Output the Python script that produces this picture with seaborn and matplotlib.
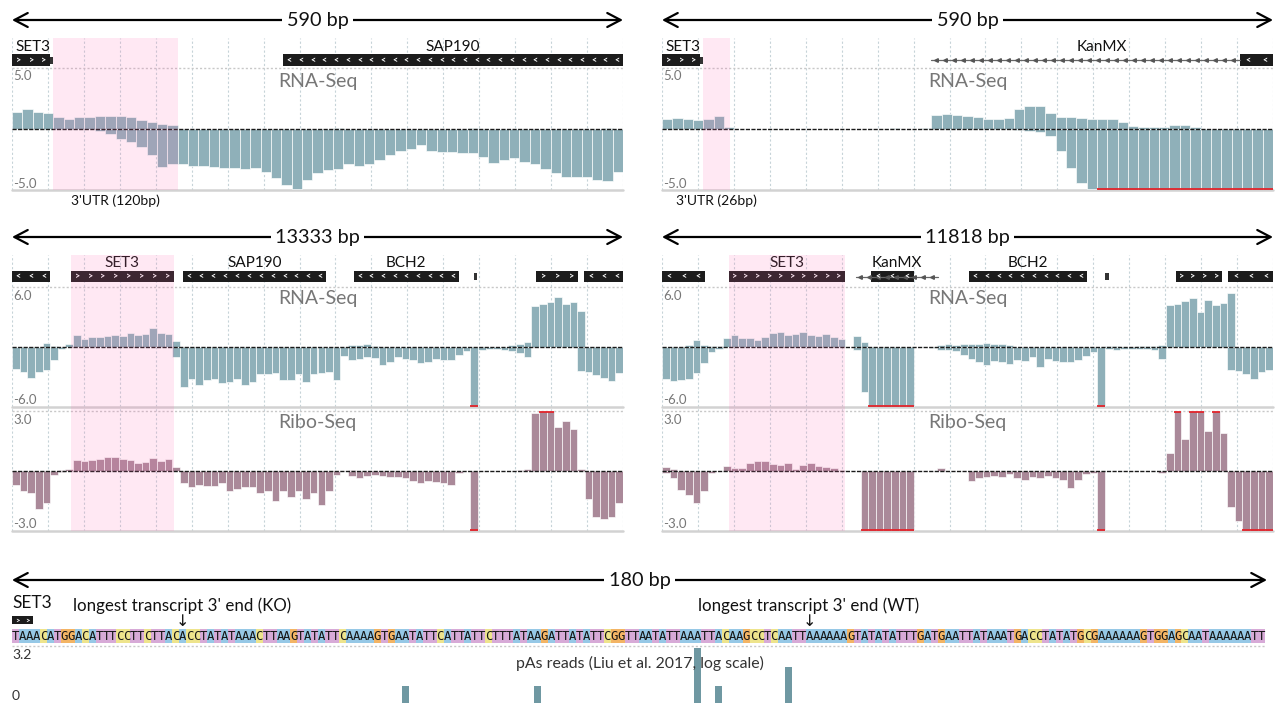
import numpy as np
import pandas as pd
import matplotlib
matplotlib.use("Agg")
import matplotlib.pyplot as plt
from matplotlib.patches import Rectangle
from matplotlib.colors import ListedColormap
import seaborn as sns

# ---------------------------------------------------------------- data
# top panels: 590 bp window, 59 bins
top_len = 590
tl_rna_plus = [1.4, 1.6, 1.4, 1.35, 0.95, 0.85, 0.95, 1.0, 1.05, 1.05,
               1.1, 0.95, 0.75, 0.6, 0.45, 0.35] + [0.0] * 15 + [0.1] + [0.0] * 12 + [0.1] + [0.0] * 12 + [0.1, 0.0]
tl_rna_minus = [0.0] * 8 + [
    -0.15, -0.45, -0.8, -1.1, -1.5, -2.1, -3.1, -2.9, -2.9, -3.0,
    -3.05, -3.1, -3.2, -3.2, -3.3, -3.2, -3.5, -4.0, -4.6, -4.9,
    -4.2, -3.6, -3.4, -3.3, -2.9, -3.0, -2.9, -2.5, -2.1, -1.8,
    -1.6, -1.3, -1.8, -1.9, -1.9, -2.0, -2.0, -2.3, -2.8, -2.5,
    -2.4, -2.7, -2.9, -3.3, -3.6, -3.9, -3.9, -3.9, -4.2, -4.3,
    -3.5]
tr_rna_plus = [0.8, 0.9, 0.85, 0.75, 0.85, 1.05, 0.2] + [0.0] * 15 + [0.1, 0.0, 0.0, 0.1,
    1.15, 1.2, 1.15, 1.05, 0.95, 0.85, 0.85, 0.9, 1.6, 1.85,
    1.85, 1.3, 1.0, 0.95, 0.9, 0.85, 0.8, 0.8, 0.6, 0.25,
    0.15, 0.15, 0.2, 0.35, 0.35, 0.2] + [0.0] * 7
tr_rna_minus = [0.0] * 34 + [-0.1, -0.2, -0.25, -0.6, -1.8, -3.2, -4.4, -4.95] + [-6.0] * 17

# middle panels: 80 bins each
ml_len = 13333
mr_len = 11818
ml_rna_plus = [0.0] * 4 + [0.4, 0.1, 0.0, 0.3,
    1.2, 0.8, 1.0, 1.0, 1.1, 1.2, 1.1, 1.4, 1.2, 1.3, 1.9, 1.4, 1.3, 0.6] + [0.0] * 22 + [
    0.2, 0.25, 0.3, 0.15] + [0.0] * 17 + [0.2, 0.3, 0.5,
    4.1, 4.3, 4.5, 5.0, 4.3, 4.5, 3.6] + [0.0] * 5
ml_rna_minus = [-2.2, -2.5, -3.1, -2.5, -2.3, -1.3, -0.2] + [0.0] * 14 + [
    -1.0, -4.0, -3.2, -3.8, -3.3, -3.2, -3.6, -3.5, -3.2, -3.8,
    -3.5, -2.7, -2.7, -2.6, -3.3, -3.3, -2.7, -3.5, -2.7, -2.6,
    -2.5, -3.3, -0.9, -1.3, -1.2, -1.0, -1.1, -1.8, -1.5, -1.0,
    -1.2, -1.3, -1.6, -1.5, -1.2, -1.3, -1.3, -0.8, -0.4, -7.0,
    -0.3, -0.2, -0.2, -0.3, -0.4, -0.6, -1.0] + [0.0] * 6 + [
    -2.4, -2.5, -2.8, -3.1, -3.4, -2.6]
ml_ribo_plus = [0.0] * 6 + [0.05, 0.1, 0.55, 0.5, 0.55, 0.6, 0.72, 0.7, 0.6, 0.55,
    0.4, 0.45, 0.65, 0.5, 0.6, 0.2] + [0.0] * 22 + [0.03] + [0.0] * 21 + [
    0.05, 0.1, 2.9, 3.5, 3.5, 2.2, 2.5, 2.1, 0.1] + [0.0] * 5
ml_ribo_minus = [-0.7, -1.0, -1.1, -1.9, -1.6, -0.2, -0.05] + [0.0] * 15 + [
    -0.6, -0.8, -0.7, -0.75, -0.75, -0.6, -1.0, -0.9, -0.8, -0.8,
    -1.1, -1.0, -1.5, -1.0, -1.3, -1.0, -1.4, -1.1, -1.7, -1.0,
    -0.2, 0.0, -0.25, -0.35, -0.25, -0.2, -0.25, -0.3, -0.3, -0.35,
    -0.5, -0.6, -0.5, -0.55, -0.6, -0.7, -0.1, 0.0, -3.5] + [0.0] * 14 + [
    -1.4, -2.3, -2.4, -2.3, -1.6]

mr_rna_plus = [0.0, 0.0, 0.0, 0.2, 0.7, 0.2, 0.1, 0.1,
    0.9, 1.2, 0.9, 0.9, 0.7, 1.0, 1.4, 1.5, 1.2, 1.3,
    1.5, 1.2, 1.1, 1.3, 1.0, 0.8, 0.0, 1.15, 0.5] + [0.0] * 9 + [
    0.25, 0.3, 0.2, 0.3, 0.3, 0.35, 0.45, 0.3, 0.3, 0.25] + [0.0] * 10 + [
    0.05, 0.0, 0.1, 0.1, 0.05, 0.0, 0.1, 0.15, 0.15, 0.2,
    4.2, 4.3, 4.6, 4.9, 3.5, 4.7, 4.2, 4.4, 5.4] + [0.0] * 5
mr_rna_minus = [-3.2, -3.4, -3.3, -3.2, -2.6, -1.6, -0.5, -0.2] + [0.0] * 17 + [
    -0.3, -4.5] + [-7.0] * 6 + [
    0.0, 0.0, -0.1, -0.3, -0.3, -0.4, -0.8, -1.2, -1.5, -1.8,
    -1.4, -1.5, -1.7, -1.3, -1.4, -1.0, -2.0, -1.2, -1.4, -1.5,
    -1.5, -1.3, -0.9, -0.5, -7.0, -0.2, -0.3, -0.2, -0.2, -0.2,
    -0.2, -0.3, -1.2] + [0.0] * 8 + [-2.3, -2.4, -2.7, -3.2, -2.5, -2.3]
mr_ribo_plus = [0.2, 0.1] + [0.0] * 6 + [
    0.25, 0.15, 0.15, 0.4, 0.5, 0.5, 0.35, 0.3, 0.4, 0.1,
    0.3, 0.4, 0.25, 0.2, 0.15, 0.05] + [0.0] * 12 + [0.15] + [0.0] * 29 + [
    0.9, 3.5, 1.6, 3.5, 3.5, 2.0, 3.5, 1.9] + [0.0] * 6
mr_ribo_minus = [-0.1, -0.35, -0.95, -1.2, -1.6, -1.0, -0.1] + [0.0] * 19 + [-3.5] * 7 + [0.0] * 7 + [
    -0.5, -0.35, -0.3, -0.25, -0.3, -0.15, -0.35, -0.45, -0.3, -0.35,
    -0.25, -0.35, -0.45, -0.85, -0.45, -0.15, -0.1, -3.5] + [0.0] * 7 + [-0.1] + [0.0] * 8 + [
    -1.8, -2.5, -3.5, -3.5, -3.5, -3.5]

# gene features: (start bp, end bp, direction, kind)
tl_features = [(0, 37, '>', 'box'), (37, 40, '', 'stub'), (262, 590, '<', 'box')]
tl_labels = [('SET3', 20), ('SAP190', 426)]
tr_features = [(0, 37, '>', 'box'), (37, 40, '', 'stub'), (260, 558, '<', 'line'), (558, 590, '<', 'box')]
tr_labels = [('SET3', 20), ('KanMX', 425)]
ml_features = [(0, 838, '<', 'box'), (1283, 3535, '>', 'box'), (3740, 6856, '<', 'box'),
               (7456, 9745, '<', 'box'), (10081, 10150, '', 'dot'),
               (11443, 12360, '>', 'box'), (12483, 13333, '<', 'box')]
ml_labels = [('SET3', 2409), ('SAP190', 5298), ('BCH2', 8600)]
mr_features = [(0, 839, '<', 'box'), (1290, 3530, '>', 'box'), (3744, 5329, '<', 'line'),
               (4046, 4867, '<', 'box'), (5938, 8218, '<', 'box'), (8568, 8640, '', 'dot'),
               (9935, 10831, '>', 'box'), (10947, 11818, '<', 'box')]
mr_labels = [('SET3', 2410), ('KanMX', 4536), ('BCH2', 7078)]

tl_pink = (40, 160)
tr_pink = (40, 66)
ml_pink = (1283, 3535)
mr_pink = (1290, 3530)

# bottom: 180 bp sequence and pAs reads
sequence = ("TAAACATGGACATTTCCTTCTTACACCTATATAAACTTAAGTATATTCAAAAGTGAATATTCATTATTCTTTATAAG"
            "ATTATATTCGGTTAATATTAAATTACAAGCCTCAATTAAAAAAGTATATATTTGATGAATTATAAATGACCTATATGCG"
            "AAAAAAGTGGAGCAATAAAAAATT")
ko_end = 24
wt_end = 114
pas_pos = [56, 75, 98, 101, 111]
pas_val = [0.95, 0.95, 3.1, 0.95, 2.0]

# ---------------------------------------------------------------- style
sns.set_theme(style="white")
plt.rcParams['font.family'] = ['Lato', 'DejaVu Sans']

W, H = 1287, 703
fig = plt.figure(figsize=(W / 100, H / 100), dpi=100)

RNA_C = '#8fb0b9'
RIBO_C = '#aa8999'
PINK = (1.0, 105 / 255, 180 / 255)
GRID_C = '#c6d3d8'
LABEL_C = '#777777'


def add_px_axes(x0, y0, x1, y1, z=1):
    ax = fig.add_axes([x0 / W, 1 - y1 / H, (x1 - x0) / W, (y1 - y0) / H])
    ax.set_axis_off()
    ax.set_zorder(z)
    return ax


fa = add_px_axes(0, 0, W, H, z=5)
fa.set_xlim(0, W)
fa.set_ylim(H, 0)


def draw_bars(ax, length, vals, color, lim):
    v = np.asarray(vals, float)
    n = len(v)
    w = length / n
    centers = (np.arange(n) + 0.5) * w
    df = pd.DataFrame({'pos': centers, 'val': np.clip(v, -lim, lim)})
    sns.barplot(data=df, x='pos', y='val', native_scale=True, orient='x', color=color,
                saturation=1, width=1.0, edgecolor='white', linewidth=0.45,
                errorbar=None, ax=ax)
    for c, val in zip(centers, v):
        if abs(val) > lim:
            yy = np.sign(val) * lim * 0.99
            ax.plot([c - w / 2, c + w / 2], [yy, yy], color='#e3242b', lw=1.3,
                    solid_capstyle='butt', zorder=6, clip_on=False)


def scale_arrow(x0, x1, y, label, baseline):
    fa.annotate('', xy=(x0, y), xytext=(x1, y),
                arrowprops=dict(arrowstyle='<->,head_length=0.8,head_width=0.42',
                                lw=1.6, color='black', shrinkA=0, shrinkB=0,
                                mutation_scale=12))
    fa.text((x0 + x1) / 2, baseline, label, ha='center', va='baseline', fontsize=14.3,
            color='#111111', bbox=dict(facecolor='white', edgecolor='none', pad=3))


def draw_features(ga, length, x0, x1, features, labels, box_y0, box_y1, label_base):
    ppx = length / (x1 - x0)  # bp per pixel
    yc = (box_y0 + box_y1) / 2
    for (s, e, d, kind) in features:
        if kind == 'box':
            ga.add_patch(Rectangle((s, box_y0), e - s, box_y1 - box_y0, color='#1c1c1c', lw=0))
            wpx = (e - s) / ppx
            n = max(1, int(wpx // 11.5))
            step = (e - s) / n
            for k in range(n):
                ga.text(s + (k + 0.5) * step, yc + 0.5, d, color='white', fontsize=6.5,
                        ha='center', va='center', fontweight='bold')
        elif kind in ('stub', 'dot'):
            ga.add_patch(Rectangle((s, yc - 3.5), e - s, 7, color='#333333', lw=0))
        elif kind == 'line':
            ga.plot([s, e], [yc, yc], color='#666666', lw=0.9)
            step = 9 * ppx
            xs = np.arange(s + step / 2, e, step)
            ga.plot(xs, [yc] * len(xs), ls='none', marker='<', ms=2.6, color='#555555')
    for (txt, c) in labels:
        ga.text(c, label_base, txt, ha='center', va='baseline', fontsize=11, color='#111111')


def panel(x0, x1, length, gy0, gy1, box_y, label_base, features, labels, pink, tracks, utr=None):
    bottom = tracks[-1]['y1']
    bg = add_px_axes(x0, gy0, x1, bottom, z=0)
    bg.set_xlim(0, length)
    bg.set_ylim(1, 0)
    for k in range(18):
        bg.axvline(length * k / 17, color=GRID_C, lw=0.8, ls=(0, (2, 2)))

    ga = add_px_axes(x0, gy0, x1, gy1, z=1)
    ga.set_xlim(0, length)
    ga.set_ylim(gy1, gy0)
    draw_features(ga, length, x0, x1, features, labels, box_y[0], box_y[1], label_base)

    for tr in tracks:
        ax = add_px_axes(x0, tr['y0'], x1, tr['y1'], z=1)
        draw_bars(ax, length, tr['plus'], tr['color'], tr['lim'])
        draw_bars(ax, length, tr['minus'], tr['color'], tr['lim'])
        ax.set_xlim(0, length)
        ax.set_ylim(-tr['lim'], tr['lim'])
        ax.plot([0, length], [tr['lim'], tr['lim']], color='#c8c8c8', lw=1.0,
                ls=(0, (1.5, 1.5)), clip_on=False, zorder=3)
        ax.plot([0, length], [-tr['lim'], -tr['lim']], color='#d2d2d2', lw=1.8,
                clip_on=False, zorder=0.5)
        ax.axhline(0, color='#1a1a1a', lw=1.0, ls=(0, (3, 1)), zorder=4)
        fa.text(x0 + 1, tr['y0'] + 2.5, tr['top'], ha='left', va='top', fontsize=9.5, color=LABEL_C)
        fa.text(x0 + 1, tr['y1'] - 0.5, tr['bot'], ha='left', va='bottom', fontsize=9.5, color=LABEL_C)
        fa.text((x0 + x1) / 2, tr['name_base'], tr['name'], ha='center', va='baseline',
                fontsize=14, color=LABEL_C)

    ov = add_px_axes(x0, gy0, x1, bottom, z=10)
    ov.set_xlim(0, length)
    ov.set_ylim(0, 1)
    ov.axvspan(pink[0], pink[1], color=PINK, alpha=0.15, lw=0)

    if utr is not None:
        cx = x0 + (pink[0] + pink[1]) / 2 * (x1 - x0) / length
        fa.text(cx, bottom + 15, utr, ha='center', va='baseline', fontsize=10, color='#111111')


# ---------------------------------------------------------------- top panels
scale_arrow(12, 623, 20, '590 bp', 26)
scale_arrow(662, 1273, 20, '590 bp', 26)
panel(12, 623, top_len, 38, 68, (54, 66), 51, tl_features, tl_labels, tl_pink,
      [dict(y0=68, y1=190, lim=5.0, plus=tl_rna_plus, minus=tl_rna_minus, color=RNA_C,
            top='5.0', bot='-5.0', name='RNA-Seq', name_base=87)],
      utr="3'UTR (120bp)")
panel(662, 1273, top_len, 38, 68, (54, 66), 51, tr_features, tr_labels, tr_pink,
      [dict(y0=68, y1=190, lim=5.0, plus=tr_rna_plus, minus=tr_rna_minus, color=RNA_C,
            top='5.0', bot='-5.0', name='RNA-Seq', name_base=87)],
      utr="3'UTR (26bp)")

# ---------------------------------------------------------------- middle panels
scale_arrow(12, 623, 237, '13333 bp', 243)
scale_arrow(662, 1273, 237, '11818 bp', 243)
panel(12, 623, ml_len, 255, 287, (271, 282), 267, ml_features, ml_labels, ml_pink,
      [dict(y0=287, y1=407, lim=6.0, plus=ml_rna_plus, minus=ml_rna_minus, color=RNA_C,
            top='6.0', bot='-6.0', name='RNA-Seq', name_base=304),
       dict(y0=411, y1=531, lim=3.0, plus=ml_ribo_plus, minus=ml_ribo_minus, color=RIBO_C,
            top='3.0', bot='-3.0', name='Ribo-Seq', name_base=428)])
panel(662, 1273, mr_len, 255, 287, (271, 282), 267, mr_features, mr_labels, mr_pink,
      [dict(y0=287, y1=407, lim=6.0, plus=mr_rna_plus, minus=mr_rna_minus, color=RNA_C,
            top='6.0', bot='-6.0', name='RNA-Seq', name_base=304),
       dict(y0=411, y1=531, lim=3.0, plus=mr_ribo_plus, minus=mr_ribo_minus, color=RIBO_C,
            top='3.0', bot='-3.0', name='Ribo-Seq', name_base=428)])

# ---------------------------------------------------------------- bottom sequence panel
scale_arrow(12, 1267, 580, '180 bp', 586)
SX0, SX1 = 12, 1265
n_bp = len(sequence)

aa = add_px_axes(SX0, 590, SX1, 629, z=1)
aa.set_xlim(0, n_bp)
aa.set_ylim(629, 590)
aa.text(0, 608, 'SET3', ha='left', va='baseline', fontsize=12.5, color='#111111')
aa.add_patch(Rectangle((0, 616), 3, 8, color='#1c1c1c', lw=0))
for k in range(2):
    aa.text(0.75 + k * 1.5, 620.3, '>', color='white', fontsize=5.5, ha='center', va='center',
            fontweight='bold')
for pos, txt in [(ko_end, "longest transcript 3' end (KO)"), (wt_end, "longest transcript 3' end (WT)")]:
    aa.text(pos + 0.5, 611, txt, ha='center', va='baseline', fontsize=12.2, color='#111111')
    aa.text(pos + 0.5, 622, '\u2193', ha='center', va='center', fontsize=11.5, color='#111111',
            family=['DejaVu Sans'])

base_order = ['A', 'C', 'G', 'T']
base_colors = ['#96c8e6', '#eee48c', '#f3b464', '#d7aad7']
codes = np.array([[base_order.index(b) for b in sequence]])
letters = np.array([list(sequence)])
sax = add_px_axes(SX0, 629, SX1, 643, z=1)
sns.heatmap(codes, cmap=ListedColormap(base_colors), vmin=-0.5, vmax=3.5, cbar=False,
            annot=letters, fmt='', xticklabels=False, yticklabels=False, linewidths=0,
            annot_kws={'fontsize': 8.8, 'family': 'DejaVu Sans Mono', 'color': '#151515'},
            ax=sax)
sax.set_axis_off()

pax = add_px_axes(SX0, 646, SX1, 703, z=1)
pax.set_xlim(0, n_bp)
pax.set_ylim(0, 3.2)
pax.bar(np.array(pas_pos) + 0.5, pas_val, width=1.0, color='#6f98a2', lw=0)
pax.plot([0, n_bp], [3.2, 3.2], color='#c8c8c8', lw=1.0, ls=(0, (1.5, 1.5)), clip_on=False)
fa.text(SX0, 649, '3.2', ha='left', va='top', fontsize=10, color='#333333')
fa.text(SX0, 702, '0', ha='left', va='bottom', fontsize=10, color='#333333')
fa.text(640, 668, 'pAs reads (Liu et al. 2017, log scale)', ha='center', va='baseline',
        fontsize=11.4, color='#333333')

fig.savefig('out.png', dpi=100)
